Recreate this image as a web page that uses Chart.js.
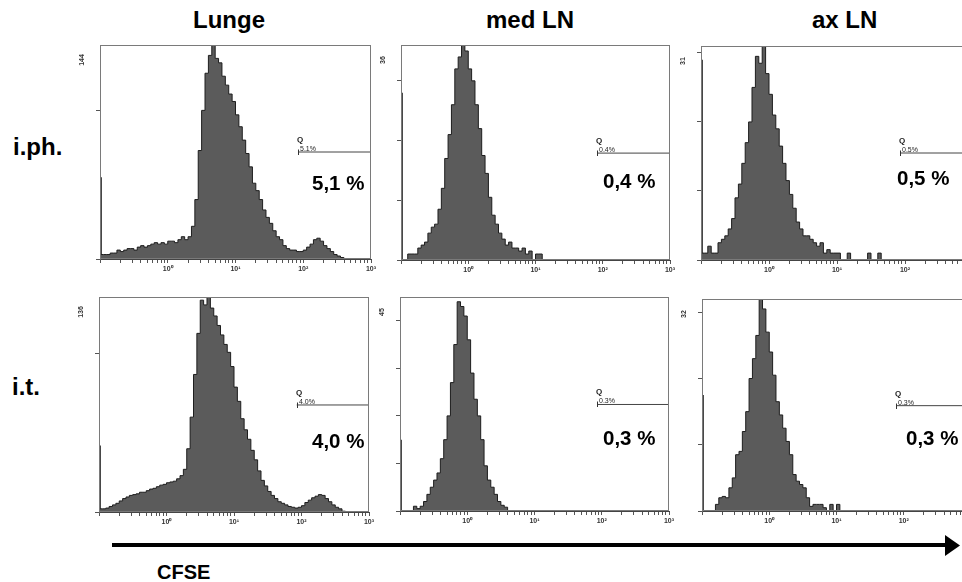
<!DOCTYPE html>
<html>
<head>
<meta charset="utf-8">
<script src="https://cdn.jsdelivr.net/npm/chart.js@4.4.1/dist/chart.umd.min.js"></script>
<style>
  html, body { margin: 0; padding: 0; background: #fff; overflow: hidden; width: 962px; height: 582px; }
  body { position: relative; font-family: "Liberation Sans", Arial, sans-serif; }
  canvas { position: absolute; }
  .lbl { position: absolute; font-weight: bold; color: #000; white-space: nowrap; line-height: 1; }
</style>
</head>
<body>
<svg width="962" height="582" style="position:absolute;left:0;top:0">
  <line x1="112" y1="545" x2="947" y2="545" stroke="#000" stroke-width="4"/>
  <polygon points="945,535 960,545.5 945,556" fill="#000"/>
</svg>
<script>
// CFSE channels: 20 log bins per decade, 10^-1 .. 10^3
const decadeSteps = [1, 1.122, 1.259, 1.413, 1.585, 1.778, 1.995, 2.239, 2.512, 2.818,
                     3.162, 3.548, 3.981, 4.467, 5.012, 5.623, 6.310, 7.079, 7.943, 8.913];
const decadeStarts = [0.1, 1, 10, 100];
const xMajor = [1, 10, 100, 1000];
const xLabels = ['10\u2070', '10\u00b9', '10\u00b2', '10\u00b3'];

// counts per channel
const lungeIph = [2, 3, 3, 3, 4, 4, 6, 5, 6, 7,
  7, 6, 8, 9, 8, 9, 10, 11, 10, 11,
  10, 12, 12, 11, 13, 15, 13, 15, 22, 40,
  73, 100, 125, 137, 144, 135, 132, 123, 117, 111,
  106, 97, 89, 80, 71, 62, 51, 46, 40, 33,
  28, 24, 19, 15, 13, 9, 7, 6, 6, 5,
  5, 6, 8, 10, 13, 14, 12, 9, 7, 5,
  3, 2, 1, 0, 0, 0, 0, 0, 0, 0];
const medLnIph = [0, 0, 0, 1, 1, 1, 2, 2.5, 3, 4.5,
  5.5, 6, 8.5, 12, 17, 21, 26, 32, 34, 36,
  35, 32, 30, 26, 22, 17.5, 14.5, 10.5, 7.5, 6,
  4.5, 3.5, 2.5, 3, 2, 2, 1.5, 2, 1, 1.5,
  0, 1, 1, 0, 0, 0, 0, 0, 0, 0,
  0, 0, 0, 0, 0, 0, 0, 0, 0, 0,
  0, 0, 0, 0, 0, 0, 0, 0, 0, 0,
  0, 0, 0, 0, 0, 0, 0, 0, 0, 0];
const axLnIph = [0, 1, 1, 2, 1, 1, 2.5, 3, 3.5, 4.5,
  6, 9, 11, 14, 17, 20, 25, 29.5, 28.5, 31,
  27, 24, 21, 19, 16.5, 14, 11.5, 9.5, 7.5, 5.5,
  4.5, 3.5, 3.5, 3, 2.5, 2, 2.5, 1, 1.5, 1,
  1, 1, 0, 0, 1, 0, 0, 0, 0, 0,
  1, 0, 0, 1, 0, 0, 0, 0, 0, 0,
  0, 0, 0, 0, 0, 0, 0, 0, 0, 0,
  0, 0, 0, 0, 0, 0, 0, 0, 0, 0];
const lungeIt = [1.5, 2, 2, 2.5, 3.5, 4.5, 5.5, 7, 8.5, 9.5,
  10.5, 11, 11.5, 12.5, 12.5, 13.5, 14.5, 15, 16, 17,
  17.5, 18.5, 19, 19.5, 21, 23, 27, 40, 60, 87,
  113, 134, 131, 136, 129, 124, 118, 112, 106, 101,
  92, 79, 70, 59, 52, 46, 39, 33, 26, 20,
  16.5, 13, 10.5, 8.5, 6.5, 5.5, 4.5, 3.5, 3, 2.5,
  3, 4, 6, 7.5, 9, 10, 11, 10.5, 8.5, 6.5,
  4.5, 3, 2, 0.5, 0, 0, 0, 0, 0, 0];
const medLnIt = [0, 0, 0, 0, 0, 1, 0.5, 1, 2, 3.5,
  5, 6.5, 8, 11, 15, 20, 27, 35, 44, 43,
  41, 36, 29, 23.5, 20, 15, 9.5, 6.5, 5, 3.5,
  2, 1.2, 0.8, 0, 0, 0, 0, 0, 0, 0,
  0, 0, 0, 0, 0, 0, 0, 0, 0, 0,
  0, 0, 0, 0, 0, 0, 0, 0, 0, 0,
  0, 0, 0, 0, 0, 0, 0, 0, 0, 0,
  0, 0, 0, 0, 0, 0, 0, 0, 0, 0];
const axLnIt = [0, 0, 0, 0, 0, 1, 2, 2.2, 2, 3.5,
  5, 8.5, 9, 12, 15, 20, 23, 26.5, 32, 30.5,
  27, 24, 20.5, 16.5, 14.5, 12.5, 10.5, 8.5, 5.5, 4.5,
  4, 3.5, 2, 0.7, 1, 1, 1, 0.5, 0, 1,
  0, 1, 0, 0, 0, 0, 0, 0, 0, 0,
  0, 0, 0, 0, 0, 0, 0, 0, 0, 0,
  0, 0, 0, 0, 0, 0, 0, 0, 0, 0,
  0, 0, 0, 0, 0, 0, 0, 0, 0, 0];

const series = [lungeIph, medLnIph, axLnIph, lungeIt, medLnIt, axLnIt];
const pileup = [55, 28, 29, 42, 15, 17.5];        // first-channel spike
const yMax = [144, 36, 31, 136, 45, 32];
const yStep = [100, 10, 10, 100, 10, 10];
const gateStart = [84, 83, 85, 85, 86, 78];
const gateLevel = [72, 17.9, 15.5, 67.7, 22.4, 15.9];
const gateText = ['5.1%', '0.4%', '0.5%', '4.0%', '0.3%', '0.3%'];
const bigText = ['5,1 %', '0,4 %', '0,5 %', '4,0 %', '0,3 %', '0,3 %'];
const colTitles = ['Lunge', 'med LN', 'ax LN'];
const rowTitles = ['i.ph.', 'i.t.'];

// plot boxes on the page
const boxes = [
  { l: 100, t: 45, r: 371, b: 259 },
  { l: 401, t: 45, r: 670, b: 260 },
  { l: 701, t: 46, r: 973, b: 260 },
  { l: 99, t: 297, r: 369, b: 512 },
  { l: 400, t: 297, r: 669, b: 511 },
  { l: 702, t: 299, r: 971, b: 511 }
];
const bigPos = [[312, 190], [603, 188], [897, 185], [312, 448], [603, 445], [906, 445]];

const channels = decadeStarts.flatMap(d => decadeSteps.map(s => +(d * s).toPrecision(4)));
channels.push(1000);
const xTicks = decadeStarts.flatMap(d => [1, 2, 3, 4, 5, 6, 7, 8, 9].map(k => +(d * k).toPrecision(3)));
xTicks.push(1000);

const FONT = '"Liberation Sans", Arial, sans-serif';

const frame = {
  id: 'frame',
  afterDatasetsDraw(chart, args, opts) {
    const { ctx, chartArea: a, scales: { x, y } } = chart;
    ctx.save();
    ctx.strokeStyle = '#7a7a7a';
    ctx.lineWidth = 1;
    ctx.strokeRect(a.left + 0.5, a.top + 0.5, a.right - a.left - 1, a.bottom - a.top - 1);
    ctx.restore();

    // rotated max count at the top of the y axis
    ctx.save();
    ctx.fillStyle = '#333';
    ctx.font = 'bold 7px ' + FONT;
    ctx.translate(a.left - 18, y.getPixelForValue(y.max) + 15);
    ctx.rotate(-Math.PI / 2);
    ctx.textAlign = 'center';
    ctx.textBaseline = 'middle';
    ctx.fillText(String(y.max), 0, 0);
    ctx.restore();

    // marker label
    ctx.save();
    const gx = Math.round(x.getPixelForValue(opts.gateStart));
    const gy = Math.round(y.getPixelForValue(opts.gateLevel));
    ctx.fillStyle = '#222';
    ctx.textAlign = 'left';
    ctx.textBaseline = 'alphabetic';
    ctx.font = 'bold 8px ' + FONT;
    ctx.fillText('Q', gx - 1, gy - 10);
    ctx.font = '7px ' + FONT;
    ctx.fillText(opts.gateText, gx + 2, gy - 1);
    ctx.strokeStyle = '#333';
    ctx.beginPath();
    ctx.moveTo(gx + 0.5, gy - 2.5);
    ctx.lineTo(gx + 0.5, gy + 3);
    ctx.stroke();
    ctx.restore();
  }
};

function addLabel(text, x, baseline, size) {
  const d = document.createElement('div');
  d.className = 'lbl';
  d.textContent = text;
  d.style.fontSize = size + 'px';
  d.style.left = x + 'px';
  d.style.top = (baseline - 0.8465 * size) + 'px';
  document.body.appendChild(d);
}

series.forEach((counts, i) => {
  const bx = boxes[i];
  const cv = document.createElement('canvas');
  cv.width = bx.r - bx.l + 40;
  cv.height = bx.b - bx.t + 26;
  cv.style.left = (bx.l - 30) + 'px';
  cv.style.top = (bx.t - 6) + 'px';
  document.body.appendChild(cv);

  const hist = counts.map((c, k) => ({ x: channels[k], y: c }));
  hist.push({ x: 1000, y: 0 });
  const yT = [];
  for (let v = 0; v <= yMax[i]; v += yStep[i]) yT.push(v);

  new Chart(cv.getContext('2d'), {
    type: 'line',
    data: {
      datasets: [{
        data: hist,
        stepped: 'after',
        fill: 'origin',
        backgroundColor: '#5b5b5b',
        borderColor: '#1e1e1e',
        borderWidth: 1,
        pointRadius: 0
      }, {
        data: [{ x: 0.104, y: 0 }, { x: 0.104, y: pileup[i] }],
        borderColor: '#333',
        borderWidth: 1.5,
        pointRadius: 0,
        fill: false
      }, {
        data: [{ x: gateStart[i], y: gateLevel[i] }, { x: 1000, y: gateLevel[i] }],
        borderColor: '#444',
        borderWidth: 1,
        pointRadius: 0,
        fill: false
      }]
    },
    options: {
      responsive: false,
      animation: false,
      devicePixelRatio: 1,
      events: [],
      layout: { padding: { left: 25, top: 6, right: 10, bottom: 0 } },
      plugins: {
        legend: { display: false },
        tooltip: { enabled: false },
        frame: { gateStart: gateStart[i], gateLevel: gateLevel[i], gateText: gateText[i] }
      },
      scales: {
        x: {
          type: 'logarithmic',
          min: 0.1,
          max: 1000,
          afterBuildTicks: s => { s.ticks = xTicks.map(v => ({ value: v })); },
          afterFit: s => { s.height = 20; s.paddingLeft = 0; s.paddingRight = 0; },
          ticks: {
            autoSkip: false,
            maxRotation: 0,
            minRotation: 0,
            padding: 2,
            color: '#333',
            font: { size: 7, weight: 'bold', family: FONT },
            callback: v => { const k = xMajor.indexOf(v); return k < 0 ? '' : xLabels[k]; }
          },
          grid: { drawOnChartArea: false, tickLength: 4, color: '#555' },
          border: { color: '#444' }
        },
        y: {
          min: 0,
          max: yMax[i],
          afterBuildTicks: s => { s.ticks = yT.map(v => ({ value: v })); },
          afterFit: s => { s.width = 5; },
          ticks: { display: false },
          grid: { drawOnChartArea: false, tickLength: 4, color: '#555' },
          border: { color: '#666' }
        }
      }
    },
    plugins: [frame]
  });

  addLabel(bigText[i], bigPos[i][0], bigPos[i][1], 20.5);
});

addLabel(colTitles[0], 193, 28, 24);
addLabel(colTitles[1], 486, 28, 24);
addLabel(colTitles[2], 812, 28, 24);
addLabel(rowTitles[0], 13, 155, 24);
addLabel(rowTitles[1], 12, 395, 24);
addLabel('CFSE', 157, 579, 20);
</script>
</body>
</html>
